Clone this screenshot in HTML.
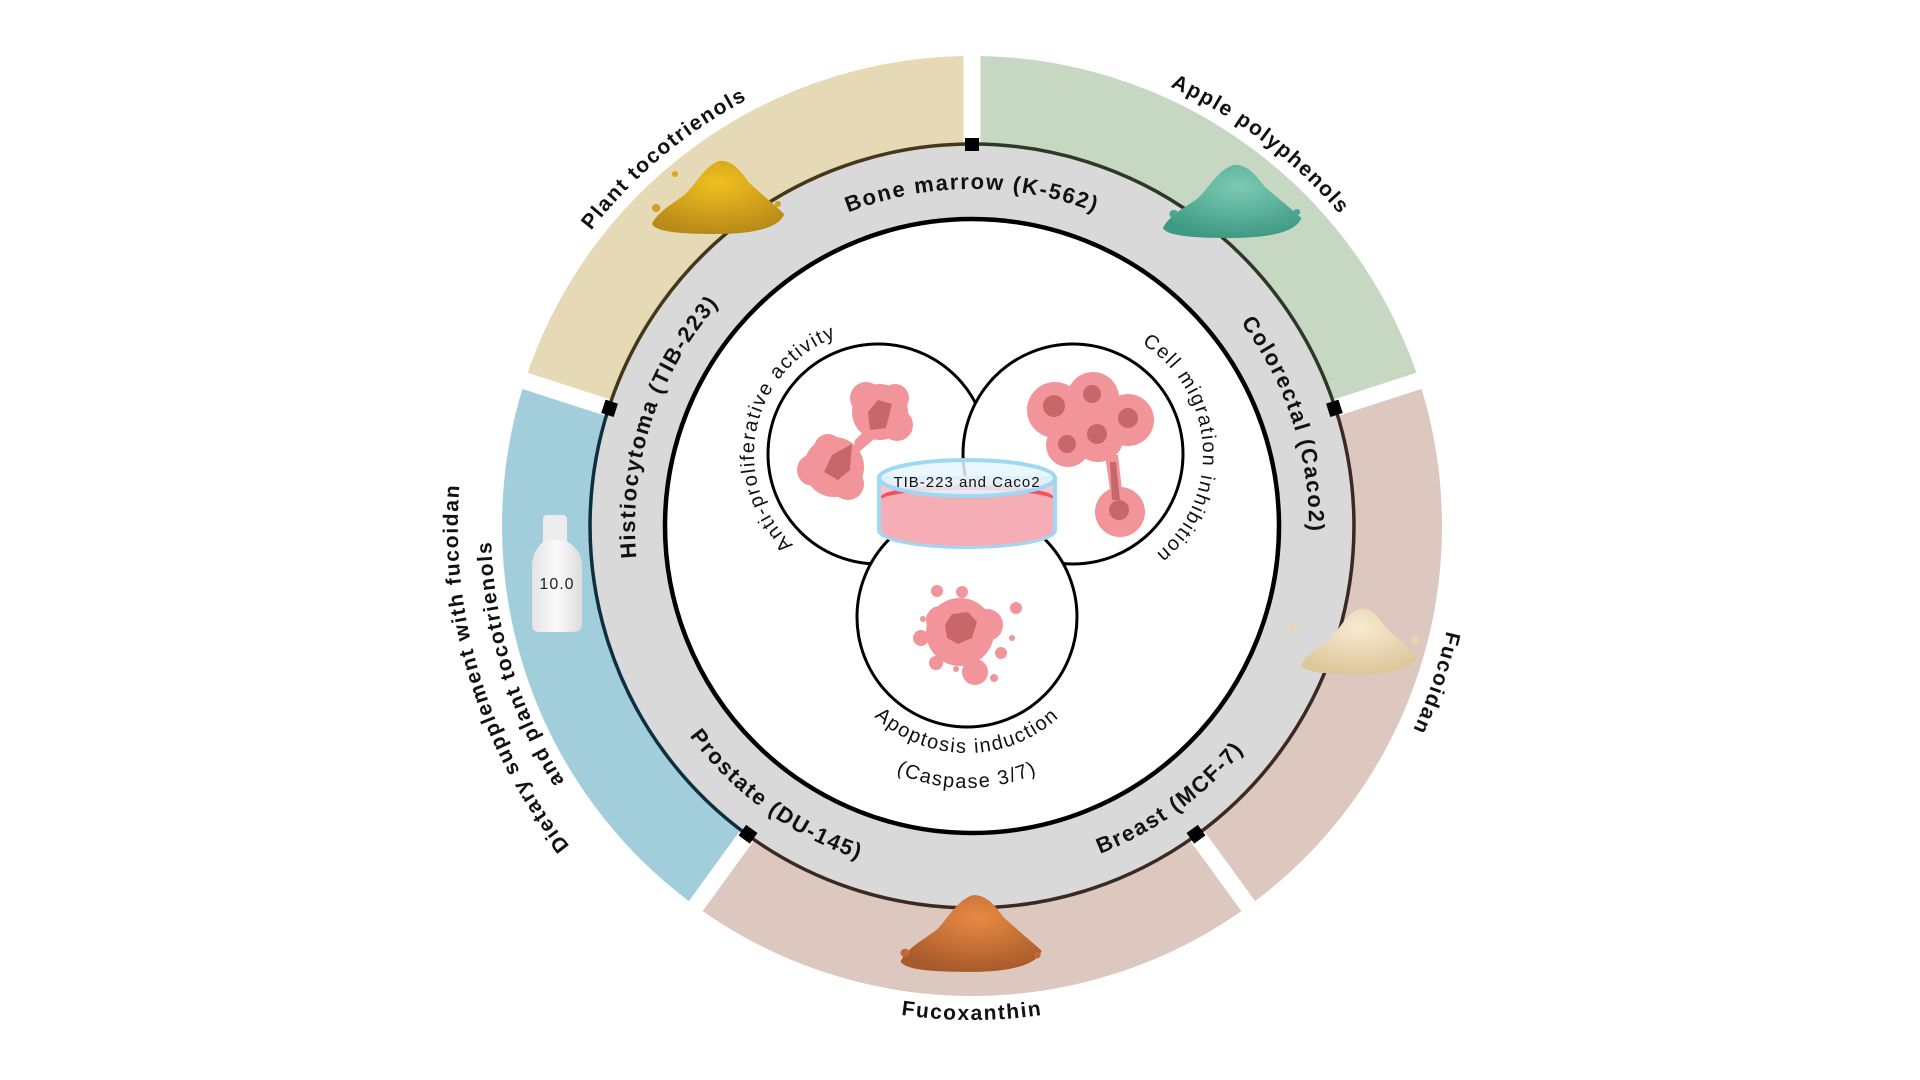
<!DOCTYPE html>
<html><head><meta charset="utf-8"><style>
html,body{margin:0;padding:0;background:#fff;}
svg{display:block;}
text{font-family:"Liberation Sans",sans-serif;}
.rl{font-weight:bold;font-size:22px;letter-spacing:1.7px;fill:#111;}
.ol{font-weight:bold;font-size:21px;letter-spacing:1.6px;fill:#111;}
.il{font-size:20px;letter-spacing:1.6px;fill:#111;}
</style></head><body>
<svg width="1920" height="1080" viewBox="0 0 1920 1080" xmlns="http://www.w3.org/2000/svg">
<defs>
<path id="ringCW" d="M972,863 A337,337 0 1 1 972,189 A337,337 0 1 1 972,863"/>
<path id="ringCCW" d="M972,174 A352,352 0 1 0 972,878 A352,352 0 1 0 972,174"/>
<path id="outCW" d="M972,1008 A482,482 0 1 1 972,44 A482,482 0 1 1 972,1008"/>
<path id="fucCW" d="M972,1012 A486,486 0 1 1 972,40 A486,486 0 1 1 972,1012"/>
<path id="outCCW" d="M972,32 A494,494 0 1 0 972,1020 A494,494 0 1 0 972,32"/>
<path id="diet1" d="M972,1040 A514,514 0 1 1 972,12 A514,514 0 1 1 972,1040"/>
<path id="diet2" d="M972,1007 A481,481 0 1 1 972,45 A481,481 0 1 1 972,1007"/>
<path id="leftCW" d="M878,578 A124,124 0 1 1 878,330 A124,124 0 1 1 878,578"/>
<path id="rightCW" d="M1073,584 A130,130 0 1 1 1073,324 A130,130 0 1 1 1073,584"/>
<path id="botCCW" d="M967,481 A136,136 0 1 0 967,753 A136,136 0 1 0 967,481"/>
<path id="botCCW2" d="M967,446 A171,171 0 1 0 967,788 A171,171 0 1 0 967,446"/>
<radialGradient id="gy" cx="50%" cy="30%" r="70%"><stop offset="0" stop-color="#f0c020"/><stop offset="1" stop-color="#b88a18"/></radialGradient>
<radialGradient id="gt" cx="55%" cy="30%" r="70%"><stop offset="0" stop-color="#7ccab2"/><stop offset="1" stop-color="#3f9a84"/></radialGradient>
<radialGradient id="gf" cx="50%" cy="30%" r="70%"><stop offset="0" stop-color="#f7ead0"/><stop offset="1" stop-color="#dcc79a"/></radialGradient>
<radialGradient id="go" cx="55%" cy="30%" r="70%"><stop offset="0" stop-color="#e88a44"/><stop offset="1" stop-color="#a85a2a"/></radialGradient>
<linearGradient id="gb" x1="0" y1="0" x2="1" y2="0"><stop offset="0" stop-color="#e4e4e4"/><stop offset=".5" stop-color="#fafafa"/><stop offset="1" stop-color="#dcdcdc"/></linearGradient>
<path id="pile" d="M-62,28 C-55,14 -42,8 -30,-2 C-20,-12 -12,-30 2,-35 C14,-36 22,-26 30,-14 C40,-4 52,6 64,18 C60,30 40,38 0,38 C-35,38 -58,36 -62,28Z"/>
</defs>

<g fill="none" stroke-width="89">
<path d="M972,100.5 A425.5,425.5 0 0 1 1376.7,394.5" stroke="#c6d8c2"/>
<path d="M1376.7,394.5 A425.5,425.5 0 0 1 1222.1,870.2" stroke="#dcc8be"/>
<path d="M1222.1,870.2 A425.5,425.5 0 0 1 721.9,870.2" stroke="#dcc8be"/>
<path d="M721.9,870.2 A425.5,425.5 0 0 1 567.3,394.5" stroke="#a2cedc"/>
<path d="M567.3,394.5 A425.5,425.5 0 0 1 972,100.5" stroke="#e6d9b5"/>
</g>
<g stroke="#fff" stroke-width="17">
<line x1="972" y1="146" x2="972" y2="40"/>
<line x1="1333.4" y1="408.6" x2="1434" y2="375.9"/>
<line x1="1195.4" y1="833.4" x2="1257.6" y2="919"/>
<line x1="748.6" y1="833.4" x2="686.4" y2="919"/>
<line x1="610.6" y1="408.6" x2="510" y2="375.9"/>
</g>

<circle cx="972" cy="526" r="344.5" fill="none" stroke="#d9d9d9" stroke-width="74"/>
<g fill="none" stroke-width="3.5">
<path d="M972,144 A382,382 0 0 1 1335.3,408" stroke="#2b3a24"/>
<path d="M1335.3,408 A382,382 0 0 1 1196.5,835" stroke="#3a2a22"/>
<path d="M1196.5,835 A382,382 0 0 1 747.5,835" stroke="#3a2a22"/>
<path d="M747.5,835 A382,382 0 0 1 608.7,408" stroke="#0e2f3e"/>
<path d="M608.7,408 A382,382 0 0 1 972,144" stroke="#45371a"/>
</g>
<circle cx="972" cy="526" r="307" fill="#fff" stroke="#000" stroke-width="4.5"/>
<g fill="#000">
<rect x="965" y="138" width="14" height="13"/>
<rect x="-7" y="-6.5" width="14" height="13" transform="translate(1334.4,408.3) rotate(72)"/>
<rect x="-7" y="-6.5" width="14" height="13" transform="translate(1196,834.2) rotate(144)"/>
<rect x="-7" y="-6.5" width="14" height="13" transform="translate(748,834.2) rotate(216)"/>
<rect x="-7" y="-6.5" width="14" height="13" transform="translate(609.6,408.3) rotate(288)"/>
</g>

<text class="rl" text-anchor="middle"><textPath href="#ringCW" startOffset="50%">Bone marrow (K-562)</textPath></text>
<text class="rl" text-anchor="middle"><textPath href="#ringCW" startOffset="70%">Colorectal (Caco2)</textPath></text>
<text class="rl" text-anchor="middle"><textPath href="#ringCW" startOffset="30%">Histiocytoma (TIB-223)</textPath></text>
<text class="rl" text-anchor="middle"><textPath href="#ringCCW" startOffset="60%">Breast (MCF-7)</textPath></text>
<text class="rl" text-anchor="middle"><textPath href="#ringCCW" startOffset="40%">Prostate (DU-145)</textPath></text>

<text class="ol" text-anchor="middle"><textPath href="#outCW" startOffset="38.9%">Plant tocotrienols</textPath></text>
<text class="ol" text-anchor="middle"><textPath href="#outCW" startOffset="60.3%">Apple polyphenols</textPath></text>
<text class="ol" text-anchor="middle"><textPath href="#fucCW" startOffset="80.2%">Fucoidan</textPath></text>
<text class="ol" text-anchor="middle"><textPath href="#outCCW" startOffset="50%">Fucoxanthin</textPath></text>
<text class="ol" text-anchor="middle"><textPath href="#diet1" startOffset="20.3%">Dietary supplement with fucoidan</textPath></text>
<text class="ol" text-anchor="middle"><textPath href="#diet2" startOffset="20.3%">and plant tocotrienols</textPath></text>

<g transform="translate(717,196) scale(1.05,1.0)"><use href="#pile" fill="url(#gy)"/><circle cx="-58" cy="12" r="4" fill="#d0a020"/><circle cx="58" cy="8" r="3" fill="#d0a020"/><circle cx="-40" cy="-22" r="3" fill="#d8aa20"/></g>
<g transform="translate(1231,200) scale(1.1,1.0)"><use href="#pile" fill="url(#gt)"/><circle cx="-52" cy="14" r="4" fill="#4aa88f"/><circle cx="60" cy="12" r="3" fill="#4aa88f"/></g>
<g transform="translate(1358,640) scale(0.92,0.9)"><use href="#pile" fill="url(#gf)"/><circle cx="-70" cy="-14" r="4" fill="#e8d6b0"/><circle cx="62" cy="0" r="4" fill="#e8d6b0"/></g>
<g transform="translate(970,932) scale(1.12,1.05)"><use href="#pile" fill="url(#go)"/><circle cx="-58" cy="20" r="4" fill="#c06a32"/><circle cx="60" cy="22" r="3" fill="#c06a32"/></g>

<g>
<rect x="543" y="515" width="24" height="32" rx="4" fill="#ececec"/>
<path d="M545,540 L565,540 C578,548 582,556 582,566 L582,624 C582,630 578,632 572,632 L540,632 C534,632 532,630 532,624 L532,566 C532,556 536,548 545,540Z" fill="url(#gb)"/>
<text x="557" y="589" text-anchor="middle" font-size="16" fill="#222" letter-spacing="1">10.0</text>
</g>

<circle cx="878" cy="454" r="110" fill="#fff" stroke="#000" stroke-width="3"/>
<circle cx="1073" cy="454" r="110" fill="#fff" stroke="#000" stroke-width="3"/>
<circle cx="967" cy="617" r="110" fill="#fff" stroke="#000" stroke-width="3"/>

<g fill="#f1959a">
<circle cx="880" cy="412" r="28"/><circle cx="866" cy="398" r="16"/><circle cx="897" cy="425" r="16"/><circle cx="895" cy="398" r="14"/>
<circle cx="834" cy="467" r="30"/><circle cx="813" cy="470" r="16"/><circle cx="848" cy="484" r="16"/><circle cx="828" cy="448" r="14"/>
<path d="M855,440 L870,426 L880,434 L852,458Z"/>
</g>
<g fill="#c9666a"><path d="M868,412 L878,400 L892,404 L886,428 L870,430Z"/><path d="M824,472 L832,455 L852,444 L850,470 L838,480Z"/></g>
<g fill="#f1959a">
<circle cx="1055" cy="410" r="28"/><circle cx="1093" cy="398" r="26"/><circle cx="1128" cy="420" r="26"/><circle cx="1098" cy="436" r="26"/><circle cx="1068" cy="445" r="22"/><circle cx="1080" cy="420" r="24"/>
<circle cx="1120" cy="512" r="25"/><path d="M1105,455 L1118,455 L1122,490 L1110,490Z"/>
</g>
<g fill="#c9666a">
<circle cx="1054" cy="406" r="11"/><circle cx="1092" cy="394" r="9"/><circle cx="1128" cy="418" r="10"/><circle cx="1097" cy="434" r="10"/><circle cx="1067" cy="444" r="9"/><circle cx="1119" cy="510" r="10"/><path d="M1110,462 L1116,462 L1120,500 L1112,500Z"/>
</g>
<g fill="#f1959a">
<circle cx="960" cy="632" r="34"/><circle cx="987" cy="625" r="16"/><circle cx="975" cy="672" r="13"/><circle cx="940" cy="620" r="14"/>
<circle cx="921" cy="638" r="8"/><circle cx="936" cy="663" r="7"/><circle cx="937" cy="591" r="6"/><circle cx="962" cy="592" r="6"/><circle cx="1016" cy="608" r="6"/><circle cx="1001" cy="653" r="6"/><circle cx="994" cy="678" r="4"/><circle cx="923" cy="619" r="3"/><circle cx="1012" cy="638" r="3"/><circle cx="956" cy="669" r="3"/>
</g>
<path d="M945,625 L952,614 L968,612 L977,622 L972,638 L958,644 L947,638Z" fill="#c9666a"/>

<path d="M879,478 L879,530 A88,17 0 0 0 1055,530 L1055,478Z" fill="#f8c6cb" stroke="#9ed8f5" stroke-width="4"/>
<ellipse cx="967" cy="497" rx="86" ry="12" fill="#f2505e"/>
<path d="M881,500 A86,10 0 0 1 1053,500 L1053,530 A86,16 0 0 1 881,530Z" fill="#f6aeb6"/>
<ellipse cx="967" cy="478" rx="88" ry="18" fill="#e8f6fd" fill-opacity="0.85" stroke="#9ed8f5" stroke-width="4"/>
<text x="967" y="487" text-anchor="middle" font-size="15" letter-spacing="1" fill="#111">TIB-223 and Caco2</text>

<text class="il" text-anchor="middle"><textPath href="#leftCW" startOffset="28.3%">Anti-proliferative activity</textPath></text>
<text class="il" text-anchor="middle"><textPath href="#rightCW" startOffset="74%">Cell migration inhibition</textPath></text>
<text class="il" text-anchor="middle"><textPath href="#botCCW" startOffset="50%">Apoptosis induction</textPath></text>
<text class="il" text-anchor="middle"><textPath href="#botCCW2" startOffset="50%">(Caspase 3/7)</textPath></text>
</svg>
</body></html>
